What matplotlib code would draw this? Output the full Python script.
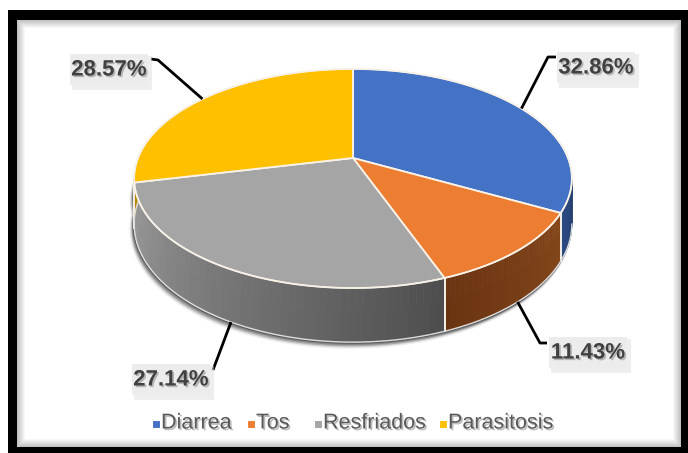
import numpy as np
import matplotlib
matplotlib.use("Agg")
import matplotlib.pyplot as plt
import matplotlib.patheffects as pe
from matplotlib.patches import Polygon, Rectangle

# datos del gráfico
categorias = ["Diarrea", "Tos", "Resfriados", "Parasitosis"]
porcentajes = [32.86, 11.43, 27.14, 28.57]
colores = ["#4472C4", "#ED7D31", "#A5A5A5", "#FFC000"]
# color del costado (izquierda -> derecha) por sector
colores_lado = [("#2c4c86", "#24406f"), ("#6a3411", "#84461a"),
                ("#9c9c9c", "#4e4e4e"), ("#b38600", "#b38600")]
# posición del texto de cada etiqueta y codo de la línea guía
pos_etiqueta = [(596, 68), (588, 353), (171, 380), (109, 70)]
codo_etiqueta = [[(548, 57), (556, 57)], [(540, 343), (547, 343)],
                 [(213, 370)], [(158, 60), (151, 59)]]

# geometría en píxeles de la torta en perspectiva
CX, CY = 353.0, 158.0
A, B, H, K = 215.0, 105.7, 44.0, 0.187


def proyectar(t, z=0.0):
    X, Y = np.cos(t), np.sin(t)
    d = 1 + K * Y
    return CX + A * X / d, CY + (-B * Y + H * z) / d


def arco(t1, t2, z=0.0, n=200):
    t = np.linspace(t1, t2, n)
    x, y = proyectar(t, z)
    return np.column_stack([x, y])


def mezclar(c1, c2, f):
    a = np.array(matplotlib.colors.to_rgb(c1))
    b = np.array(matplotlib.colors.to_rgb(c2))
    return a + (b - a) * f


fig = plt.figure(figsize=(6.88, 4.53), dpi=100)
ax = fig.add_axes([0, 0, 1, 1])
ax.set_xlim(0, 688)
ax.set_ylim(453, 0)
ax.set_axis_off()

# marco negro y borde interior sombreado
ax.add_patch(Rectangle((8, 10), 700, 460, facecolor="black", zorder=0))
for i in range(9):
    g = 0.76 + 0.24 * i / 8
    ax.add_patch(Rectangle((17 + i, 20 + i), 664 - 2 * i, 427 - 2 * i,
                           facecolor=(g, g, g), edgecolor="none", zorder=0.1))

# ángulos de los sectores (desde arriba, sentido horario)
frac = np.array(porcentajes) / sum(porcentajes)
inicio = np.pi / 2 - 2 * np.pi * np.concatenate([[0], np.cumsum(frac)[:-1]])
fin = inicio - 2 * np.pi * frac

t_izq = -np.pi - np.arcsin(K)
t_der = -np.arcsin(K)

# sombra bajo el costado frontal
frente = np.vstack([arco(t_izq, t_der, 0.4), arco(t_izq, t_der, 1)[::-1]])
for i, a in enumerate([0.06, 0.08, 0.12, 0.18, 0.3]):
    off = 5 - i
    ax.add_patch(Polygon(frente + [-off * 0.6, off], closed=True,
                         facecolor="black", edgecolor="black", lw=2.5 - 0.4 * i,
                         alpha=a, zorder=1))

# costado visible de cada sector
for i in range(len(categorias)):
    a1 = max(fin[i], t_izq)
    a2 = min(inicio[i], t_der)
    if abs(proyectar(a2)[0] - proyectar(a1)[0]) < 2:
        continue
    pasos = np.linspace(a1, a2, 60)
    for j in range(len(pasos) - 1):
        p = np.vstack([arco(pasos[j], pasos[j + 1], 0, 4),
                       arco(pasos[j], pasos[j + 1], 1, 4)[::-1]])
        c = mezclar(colores_lado[i][0], colores_lado[i][1], j / (len(pasos) - 2))
        ax.add_patch(Polygon(p, closed=True, facecolor=c, edgecolor=c,
                             linewidth=0.5, zorder=2))
    # líneas claras de los bordes
    for t in (a1, a2):
        if t_izq + 0.01 < t < t_der - 0.01:
            x0, y0 = proyectar(t, 0)
            x1, y1 = proyectar(t, 1)
            ax.plot([x0, x1], [y0, y1], color="#f4eee6", lw=1.3, zorder=3)
base = arco(t_izq, t_der, 1)
ax.plot(base[:, 0], base[:, 1], color="#dddddd", lw=1.0, zorder=3)

# cara superior
for i in range(len(categorias)):
    p = np.vstack([[CX, CY], arco(inicio[i], fin[i], 0)])
    ax.add_patch(Polygon(p, closed=True, facecolor=colores[i],
                         edgecolor="#fbf3e8", linewidth=1.3, zorder=4))
borde = arco(0, 2 * np.pi, 0, 400)
ax.plot(borde[:, 0], borde[:, 1], color="#f7f1e8", lw=1.0, zorder=5)

# etiquetas de porcentaje con líneas guía
sombra_txt = [pe.withSimplePatchShadow(offset=(1.2, -1.2), shadow_rgbFace="#909090",
                                       alpha=0.6)]
for i in range(len(categorias)):
    medio = (inicio[i] + fin[i]) / 2
    z = 1.0 if np.sin(medio) < 0 else 0.0
    ancla = proyectar(medio, z)
    pts = np.array([ancla] + codo_etiqueta[i])
    ax.plot(pts[:, 0], pts[:, 1], color="black", lw=2.0, zorder=6,
            solid_capstyle="butt")
    tx, ty = pos_etiqueta[i]
    ax.add_patch(Rectangle((tx - 37, ty - 14), 80, 34, facecolor="#dedede",
                           edgecolor="none", alpha=0.5, zorder=6))
    ax.add_patch(Rectangle((tx - 39, ty - 16), 78, 31, facecolor="#ececec",
                           edgecolor="none", zorder=6.5))
    ax.text(tx, ty, f"{porcentajes[i]:.2f}%", ha="center", va="center",
            fontsize=16, fontweight="bold", color="#404040",
            family="Liberation Sans", zorder=7, path_effects=sombra_txt)

# leyenda
leyenda_x = [156, 251, 318, 443]
for i, nombre in enumerate(categorias):
    ax.plot(leyenda_x[i], 424, marker="s", markersize=6, color=colores[i],
            markeredgecolor="white", markeredgewidth=0.8, zorder=7)
    ax.text(leyenda_x[i] + 5, 423, nombre, ha="left", va="center",
            fontsize=15.5, color="#595959", family="Liberation Sans", zorder=7,
            path_effects=sombra_txt)

fig.savefig("out.png", dpi=100)
